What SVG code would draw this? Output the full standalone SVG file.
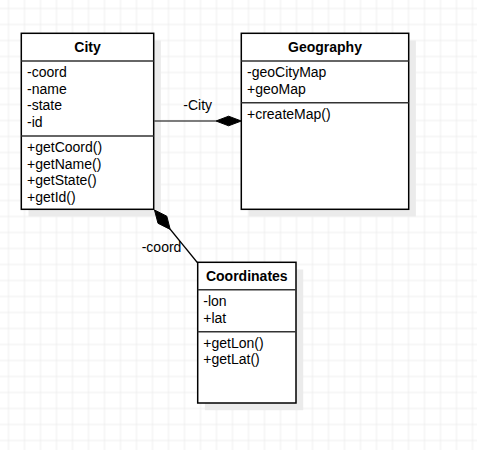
<svg xmlns="http://www.w3.org/2000/svg" width="477" height="450" viewBox="0 0 477 450">
<defs>
<pattern id="grid" x="0.5" y="0.5" width="16" height="16" patternUnits="userSpaceOnUse">
<path d="M8 0V16M0 8H16" stroke="#eeeeee" stroke-width="1" fill="none"/>
</pattern>
</defs>
<style>
.shadow{fill:#ebebeb;stroke:none}
.box{fill:#fff;stroke:#000;stroke-width:1.5}
.div{stroke:#333;stroke-width:1.5}
.title{font-family:"Liberation Sans",Arial,sans-serif;font-size:14px;font-weight:bold;text-anchor:middle;fill:#000}
.t{font-family:"Liberation Sans",Arial,sans-serif;font-size:14px;fill:#000}
.conn{stroke:#000;stroke-width:1.2;fill:none}
.dia{fill:#000;stroke:#000;stroke-width:1}
</style>
<rect width="477" height="450" fill="#fff"/>
<rect width="477" height="450" fill="url(#grid)"/>

<g id="city">
<rect class="shadow" x="28.5" y="40.5" width="132.4" height="176"/>
<rect class="box" x="21.3" y="33.3" width="132.4" height="176"/>
<line class="div" x1="21.3" y1="61" x2="153.7" y2="61"/>
<line class="div" x1="21.3" y1="136" x2="153.7" y2="136"/>
<text class="title" x="87.5" y="52.3">City</text>
<text class="t" x="27" y="77.3">-coord</text>
<text class="t" x="27" y="93.8">-name</text>
<text class="t" x="27" y="110.3">-state</text>
<text class="t" x="27" y="126.8">-id</text>
<text class="t" x="27" y="152">+getCoord()</text>
<text class="t" x="27" y="168.5">+getName()</text>
<text class="t" x="27" y="185">+getState()</text>
<text class="t" x="27" y="201.5">+getId()</text>
</g>

<g id="geography">
<rect class="shadow" x="248.5" y="40.5" width="167.4" height="176"/>
<rect class="box" x="241.3" y="33.3" width="167.4" height="176"/>
<line class="div" x1="241.3" y1="61" x2="408.7" y2="61"/>
<line class="div" x1="241.3" y1="102.7" x2="408.7" y2="102.7"/>
<text class="title" x="325" y="52.3">Geography</text>
<text class="t" x="247" y="77.3">-geoCityMap</text>
<text class="t" x="247" y="93.8">+geoMap</text>
<text class="t" x="247" y="118.7">+createMap()</text>
</g>

<g id="coordinates">
<rect class="shadow" x="204.9" y="269.5" width="98.3" height="140.7"/>
<rect class="box" x="197.7" y="262.3" width="98.3" height="140.7"/>
<line class="div" x1="197.7" y1="289.7" x2="296" y2="289.7"/>
<line class="div" x1="197.7" y1="331.7" x2="296" y2="331.7"/>
<text class="title" x="246.8" y="280.7">Coordinates</text>
<text class="t" x="203.3" y="306">-lon</text>
<text class="t" x="203.3" y="322.5">+lat</text>
<text class="t" x="203.3" y="347.7">+getLon()</text>
<text class="t" x="203.3" y="364.2">+getLat()</text>
</g>

<g id="connectors">
<line class="conn" x1="154.4" y1="121" x2="216" y2="121"/>
<polygon class="dia" points="241.3,121 228.6,116.2 216,121 228.6,125.8"/>
<text class="t" x="183.3" y="110">-City</text>
<line class="conn" x1="170" y1="229" x2="197.7" y2="263"/>
<polygon class="dia" points="154.5,210 158,223.3 170.2,229.4 166.8,216.2"/>
<text class="t" x="141.7" y="252">-coord</text>
</g>
</svg>
